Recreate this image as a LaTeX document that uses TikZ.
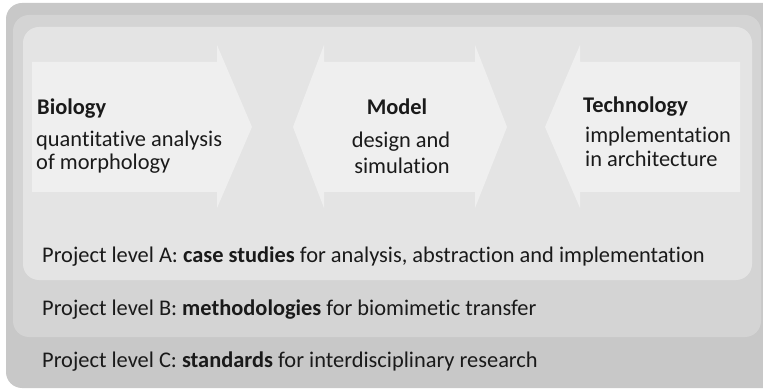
\documentclass[tikz,border=0pt]{standalone}
\usepackage{fontspec}
\setmainfont[Ligatures={NoCommon}]{Carlito}
\definecolor{levelC}{HTML}{C8C8C8}
\definecolor{levelB}{HTML}{D4D4D4}
\definecolor{levelA}{HTML}{E4E4E4}
\definecolor{arrowfill}{HTML}{EFEFEF}
\definecolor{ink}{HTML}{1A1A1A}
\begin{document}
\begin{tikzpicture}[x=1pt,y=-1pt,
  levelbox/.style={rounded corners=16pt},
  arrowshape/.style={fill=arrowfill},
  txt/.style={font=\fontsize{22.4}{26}\selectfont, text=ink, inner sep=0pt},
  head/.style={txt, font=\fontsize{22.4}{26}\selectfont\bfseries},
]
\useasboundingbox (0,0) rectangle (763,390);
\fill[white] (0,0) rectangle (763,390);

% nested project levels
\fill[levelC, levelbox] (6,3) rectangle (780,388);
\fill[levelB, levelbox] (13,15) rectangle (761,337);
\fill[levelA, levelbox] (23,27) rectangle (752,280);

% Biology: arrow pointing right
\path[arrowshape] (32,62) -- (217,62) -- (217,45) -- (252,127) -- (217,208)
  -- (217,192) -- (32,192) -- cycle;
% Model: double-headed arrow
\path[arrowshape] (293,127) -- (324,45) -- (324,62) -- (475,62) -- (475,45)
  -- (507,127) -- (475,208) -- (475,192) -- (324,192) -- (324,208) -- cycle;
% Technology: arrow pointing left
\path[arrowshape] (545,127) -- (580,45) -- (580,62) -- (740,62) -- (740,192)
  -- (580,192) -- (580,208) -- cycle;

% arrow labels
\node[head, anchor=base west] (bioH) at (37,115) {Biology};
\node[txt, anchor=base west] (bio1) at (36,147) {quantitative analysis};
\node[txt, anchor=base west] (bio2) at (36,170) {of morphology};

\node[head, anchor=base] (modH) at (397,115) {Model};
\node[txt, anchor=base] (mod1) at (401,148) {design and};
\node[txt, anchor=base] (mod2) at (402,174) {simulation};

\node[head, anchor=base west] (tecH) at (583,113) {Technology};
\node[txt, anchor=base west] (tec1) at (585,143) {implementation};
\node[txt, anchor=base west] (tec2) at (585,167) {in architecture};

% level captions
\node[txt, anchor=base west] (lvA) at (42,262)
  {Project level A: \textbf{case studies} for analysis, abstraction and implementation};
\node[txt, anchor=base west] (lvB) at (42,315)
  {Project level B: \textbf{methodologies} for biomimetic transfer};
\node[txt, anchor=base west] (lvC) at (42,367)
  {Project level C: \textbf{standards} for interdisciplinary research};
\end{tikzpicture}
\end{document}
